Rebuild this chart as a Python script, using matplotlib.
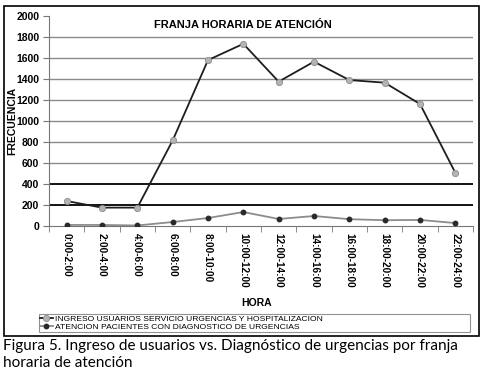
import numpy as np
import matplotlib
matplotlib.use("Agg")
import matplotlib.pyplot as plt
from matplotlib.patches import Rectangle

plt.rcParams['font.family'] = ['Liberation Sans', 'DejaVu Sans']

# datos
franjas = ["0:00-2:00", "2:00-4:00", "4:00-6:00", "6:00-8:00", "8:00-10:00",
           "10:00-12:00", "12:00-14:00", "14:00-16:00", "16:00-18:00",
           "18:00-20:00", "20:00-22:00", "22:00-24:00"]
ingreso = [238, 175, 175, 815, 1580, 1735, 1375, 1565, 1390, 1365, 1162, 507]
atencion = [10, 10, 5, 38, 76, 133, 67, 95, 65, 55, 58, 28]
lbl_ingreso = "INGRESO USUARIOS SERVICIO URGENCIAS Y HOSPITALIZACION"
lbl_atencion = "ATENCION PACIENTES CON DIAGNOSTICO DE URGENCIAS"

fig = plt.figure(figsize=(4.82, 3.75), dpi=100)
ax = fig.add_axes([49 / 482, 1 - 226 / 375, 424 / 482, 210 / 375])

x = np.arange(len(franjas))

# lineas de cuadricula
for v in range(200, 2000, 200):
    if v in (200, 400):
        ax.axhline(v, color="black", lw=1.3, zorder=1)
    else:
        ax.axhline(v, color="#8a8a8a", lw=1.0, zorder=1)

ax.plot(x, ingreso, color="#1e1e1e", lw=1.3, marker="o", markersize=4.5,
        markerfacecolor="#b4b4b4", markeredgecolor="#8c8c8c", markeredgewidth=0.6,
        label=lbl_ingreso, zorder=3)
ax.plot(x, atencion, color="#8c8c8c", lw=1.3, marker="o", markersize=3.2,
        markerfacecolor="#2a2a2a", markeredgecolor="#2a2a2a",
        label=lbl_atencion, zorder=3)

ax.set_xlim(-0.5, len(franjas) - 0.5)
ax.set_ylim(0, 2000)
ax.set_yticks(range(0, 2001, 200))
ax.set_yticklabels([str(v) for v in range(0, 2001, 200)], fontsize=7.5, fontweight="bold")
ax.set_xticks(x)
ax.set_xticklabels(franjas, rotation=270, fontsize=7.2, fontweight="bold")
ax.set_xticks(np.arange(-0.5, len(franjas), 1), minor=True)
ax.tick_params(axis="x", which="major", length=0, pad=5)
ax.tick_params(axis="x", which="minor", length=4, color="#777777", direction="out")
ax.tick_params(axis="y", length=4, color="#777777", direction="out", pad=3)

for s in ("top", "right"):
    ax.spines[s].set_visible(False)
for s in ("left", "bottom"):
    ax.spines[s].set_color("#777777")
    ax.spines[s].set_linewidth(0.8)

ax.set_ylabel("FRECUENCIA", fontsize=7.5, fontweight="bold")
ax.yaxis.set_label_coords(-0.076, 0.5)
ax.set_xlabel("HORA", fontsize=7.5, fontweight="bold")
ax.xaxis.set_label_coords(0.49, -0.345)
ax.text(0.458, 0.98, "FRANJA HORARIA DE ATENCIÓN", transform=ax.transAxes,
        ha="center", va="top", fontsize=8, fontweight="bold")

leg = fig.legend(loc="lower left", bbox_to_anchor=(39 / 482, 1 - 332 / 375, 431 / 482, 19 / 375),
                 mode="expand", ncol=1, fontsize=6.1, frameon=True, fancybox=False,
                 borderpad=0.1, labelspacing=0.05, handlelength=1.5, handletextpad=0.3,
                 borderaxespad=0)
leg.get_frame().set_edgecolor("#777777")
leg.get_frame().set_linewidth(0.8)

# marco exterior
fig.patches.append(Rectangle((4 / 482, 1 - 336 / 375), 475 / 482, 330 / 375,
                             transform=fig.transFigure, fill=False,
                             edgecolor="black", lw=1.2))

fig.text(3 / 482, 1 - 339 / 375,
         "Figura 5. Ingreso de usuarios vs. Diagnóstico de urgencias por franja\nhoraria de atención",
         ha="left", va="top", fontsize=11, family=["Lato", "DejaVu Sans"],
         linespacing=1.3)

fig.savefig("out.png", dpi=100)
